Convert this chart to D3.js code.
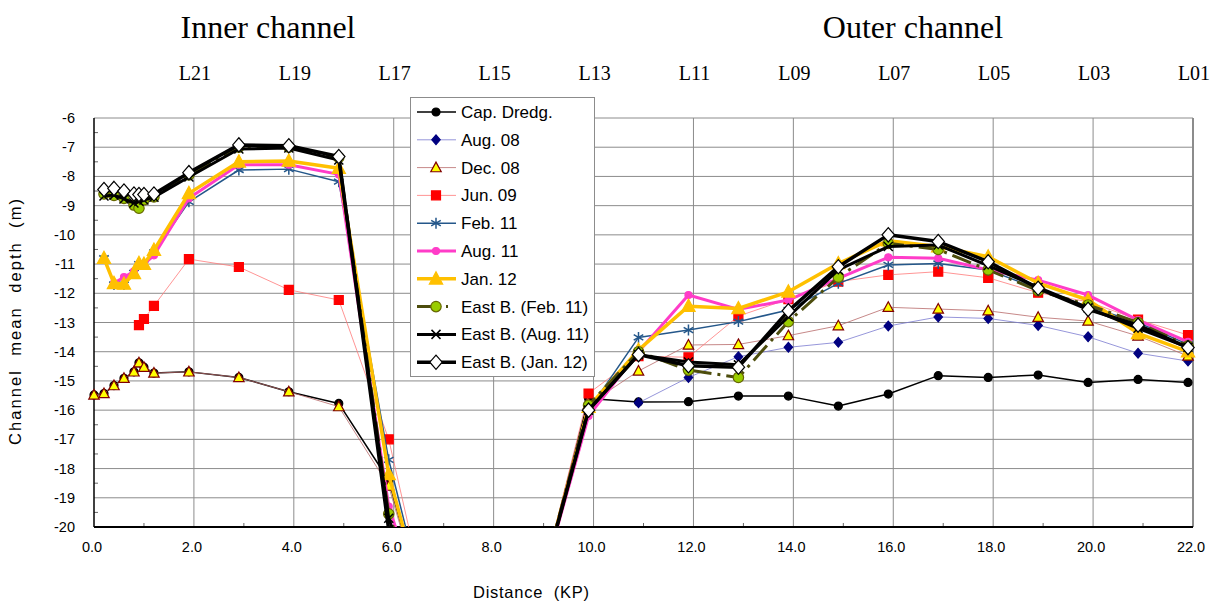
<!DOCTYPE html>
<html>
<head>
<meta charset="UTF-8">
<title>Channel mean depth</title>
<style>
  body { margin: 0; background: #fff; font-family: Arial, 'Liberation Sans', sans-serif; }
  .grid line { stroke: #8c8c8c; stroke-width: 1; }
  .tick-label { font-size: 14.5px; fill: #000; }
  .legend text { font-size: 17px; }
  .title { font-family: 'Liberation Serif', 'Times New Roman', serif; }
</style>
</head>
<body>
<script src="https://cdnjs.cloudflare.com/ajax/libs/d3/7.8.5/d3.min.js"></script>
<script>
/// data

// KP of each survey line (the gap 6.9-8.9 is below the plotted range)
var kp = [0.0, 0.2, 0.4, 0.6, 0.8, 0.9, 1.0, 1.2, 1.9, 2.9, 3.9, 4.9, 5.9, 6.9, 7.9, 8.9,
          9.9, 10.9, 11.9, 12.9, 13.9, 14.9, 15.9, 16.9, 17.9, 18.9, 19.9, 20.9, 21.9];

var capDredg = [-15.48, -15.43, -15.16, -14.91, -14.69, -14.38, -14.53, -14.73, -14.69, -14.88, -15.37, -15.77, -18.4, -24.5, -25.5, -22.3,
                -15.6, -15.72, -15.71, -15.52, -15.52, -15.86, -15.45, -14.82, -14.88, -14.8, -15.05, -14.95, -15.05];
var aug08 = [null, null, null, null, null, null, null, null, null, null, null, null, null, null, null, null,
             null, -15.75, -14.88, -14.17, -13.85, -13.68, -13.12, -12.81, -12.86, -13.1, -13.49, -14.05, -14.32];
var dec08 = [-15.48, -15.43, -15.16, -14.91, -14.69, -14.38, -14.53, -14.73, -14.69, -14.88, -15.37, -15.88, -18.6, -24.5, -25.5, -22.3,
             -15.8, -14.66, -13.77, -13.75, -13.45, -13.11, -12.48, -12.54, -12.6, -12.82, -12.95, -13.46, -14.15];
var jun09 = [null, null, null, null, null, -13.09, -12.88, -12.43, -10.83, -11.1, -11.88, -12.23, -17.0, -24.5, -25.5, -22.3,
             -15.43, -14.15, -14.19, -12.78, -12.2, -11.6, -11.37, -11.26, -11.47, -11.98, -12.29, -12.9, -13.43];
var feb11 = [null, -10.8, -11.7, -11.7, -11.3, -11.0, -11.0, -10.6, -8.87, -7.78, -7.75, -8.18, -17.7, -24.5, -25.5, -22.3,
             -16.0, -13.51, -13.26, -12.97, -12.57, -11.66, -11.03, -10.98, -11.2, -11.85, -12.45, -13.0, -13.75];
var aug11 = [null, null, -11.65, -11.45, -11.25, -11.0, -11.0, -10.7, -8.75, -7.6, -7.6, -7.93, -19.3, -24.5, -25.5, -22.3,
             -16.2, -14.0, -12.06, -12.55, -12.23, -11.49, -10.77, -10.8, -11.2, -11.55, -12.06, -12.92, -13.66];
var jan12 = [null, -10.8, -11.66, -11.68, -11.32, -10.97, -11.0, -10.52, -8.58, -7.5, -7.47, -7.72, -18.2, -24.5, -25.5, -22.3,
             -15.9, -13.94, -12.44, -12.52, -11.95, -10.98, -10.2, -10.4, -10.75, -11.65, -12.23, -13.37, -14.0];
var ebFeb11 = [null, -8.6, -8.65, -8.75, -8.98, -9.09, -8.8, -8.7, -7.95, -7.0, -7.0, -7.35, -19.55, -24.5, -25.5, -22.3,
               -15.83, -14.0, -14.63, -14.88, -12.97, -11.45, -10.29, -10.5, -11.2, -11.91, -12.4, -13.0, -13.8];
var ebAug11 = [null, -8.67, -8.64, -8.77, -8.91, -8.85, -8.81, -8.71, -8.02, -7.06, -7.03, -7.44, -19.7, -24.5, -25.5, -22.3,
               -16.0, -14.1, -14.35, -14.45, -12.8, -11.2, -10.4, -10.35, -11.05, -11.8, -12.5, -13.2, -13.85];
var ebJan12 = [null, -8.45, -8.41, -8.5, -8.6, -8.62, -8.62, -8.6, -7.87, -6.92, -6.95, -7.32, -20.1, -24.5, -25.5, -22.3,
               -16.0, -14.1, -14.48, -14.53, -12.6, -11.09, -10.0, -10.23, -10.92, -11.83, -12.55, -13.09, -13.86];

var seriesNames = ["Cap. Dredg.", "Aug. 08", "Dec. 08", "Jun. 09", "Feb. 11", "Aug. 11", "Jan. 12",
                   "East B. (Feb. 11)", "East B. (Aug. 11)", "East B. (Jan. 12)"];
var seriesValues = [capDredg, aug08, dec08, jun09, feb11, aug11, jan12, ebFeb11, ebAug11, ebJan12];

var lineLabels = ["L21", "L19", "L17", "L15", "L13", "L11", "L09", "L07", "L05", "L03", "L01"];
var lineLabelKp = [2, 4, 6, 8, 10, 12, 14, 16, 18, 20, 22];
var xTicks = [0, 2, 4, 6, 8, 10, 12, 14, 16, 18, 20, 22];

/// styles (one per series, same order)
var styles = [
  {stroke: "#000", w: 1.5, marker: "circle", size: 4, fill: "#000", mstroke: "#000"},
  {stroke: "#7b7bd0", w: 0.8, marker: "diamond", size: 4.2, fill: "#000080", mstroke: "#000080"},
  {stroke: "#b86a6a", w: 0.8, marker: "triangle", size: 5.5, fill: "#ffff00", mstroke: "#800000"},
  {stroke: "#ff7a7a", w: 0.8, marker: "square", size: 4.5, fill: "#ff0000", mstroke: "#ff0000"},
  {stroke: "#24578a", w: 1.5, marker: "asterisk", size: 5.5, fill: "none", mstroke: "#24578a"},
  {stroke: "#ff3cc8", w: 3, marker: "circle", size: 3.5, fill: "#ff3cc8", mstroke: "#ff3cc8"},
  {stroke: "#ffc000", w: 3.5, marker: "triangle", size: 7, fill: "#ffc000", mstroke: "#ffc000"},
  {stroke: "#4d4d0d", w: 3, dash: "20,6,3,6", marker: "circle", size: 5.2, fill: "#99cc00", mstroke: "#666600"},
  {stroke: "#000", w: 3, marker: "x", size: 4.5, fill: "none", mstroke: "#000"},
  {stroke: "#000", w: 3.5, marker: "diamond", size: 6.2, fill: "#fff", mstroke: "#000"}
];

/// main

var width = 1218, height = 602;
var svg = d3.select("body").append("svg")
    .attr("width", width)
    .attr("height", height);

var x = d3.scaleLinear().domain([0, 22]).range([94, 1193]);
var y = d3.scaleLinear().domain([-20, -6]).range([527, 118]);

// grid
var grid = svg.append("g").attr("class", "grid");
grid.selectAll("line.h")
  .data(d3.range(-19, -5))
  .enter().append("line")
    .attr("class", "h")
    .attr("x1", x(0)).attr("x2", x(22))
    .attr("y1", function(d) { return y(d); })
    .attr("y2", function(d) { return y(d); });
grid.selectAll("line.v")
  .data(xTicks.slice(1))
  .enter().append("line")
    .attr("class", "v")
    .attr("y1", y(-20)).attr("y2", y(-6))
    .attr("x1", function(d) { return x(d); })
    .attr("x2", function(d) { return x(d); });
svg.append("line")
    .attr("x1", x(22)).attr("x2", x(22))
    .attr("y1", y(-6)).attr("y2", y(-20))
    .attr("stroke", "#8c8c8c").attr("stroke-width", 2);

// minor ticks
svg.append("g").selectAll("line")
  .data(d3.range(-19.5, -6, 1))
  .enter().append("line")
    .attr("x1", x(0)).attr("x2", x(0) + 4)
    .attr("y1", function(d) { return y(d); })
    .attr("y2", function(d) { return y(d); })
    .attr("stroke", "#666");
svg.append("g").selectAll("line")
  .data(d3.range(1, 22, 2))
  .enter().append("line")
    .attr("x1", function(d) { return x(d); })
    .attr("x2", function(d) { return x(d); })
    .attr("y1", y(-20)).attr("y2", y(-20) - 4)
    .attr("stroke", "#666");

// axes lines
svg.append("line")
    .attr("x1", x(0)).attr("x2", x(0)).attr("y1", y(-6)).attr("y2", y(-20))
    .attr("stroke", "#000").attr("stroke-width", 1.5);
svg.append("line")
    .attr("x1", x(0)).attr("x2", x(22)).attr("y1", y(-20)).attr("y2", y(-20))
    .attr("stroke", "#000").attr("stroke-width", 2);

// tick labels
svg.append("g").selectAll("text")
  .data(d3.range(-6, -21, -1))
  .enter().append("text")
    .attr("class", "tick-label")
    .attr("x", 75)
    .attr("y", function(d) { return y(d) + 5; })
    .attr("text-anchor", "end")
    .text(function(d) { return d; });
svg.append("g").selectAll("text")
  .data(xTicks)
  .enter().append("text")
    .attr("class", "tick-label")
    .attr("x", function(d) { return x(d) - 2; })
    .attr("y", 552)
    .attr("text-anchor", "middle")
    .text(function(d) { return d3.format(".1f")(d); });

// axis titles
svg.append("text")
    .attr("transform", "translate(21,322) rotate(-90)")
    .attr("text-anchor", "middle")
    .attr("textLength", 246)
    .attr("lengthAdjust", "spacing")
    .style("font-size", "16.5px")
    .style("white-space", "pre")
    .text("Channel  mean  depth  (m)");
svg.append("text")
    .attr("x", 531).attr("y", 598)
    .attr("text-anchor", "middle")
    .attr("textLength", 116)
    .attr("lengthAdjust", "spacing")
    .style("font-size", "16.5px")
    .style("white-space", "pre")
    .text("Distance  (KP)");

// titles and survey line names
svg.append("text").attr("class", "title")
    .attr("x", 268).attr("y", 38)
    .attr("text-anchor", "middle")
    .style("font-size", "32px")
    .text("Inner channel");
svg.append("text").attr("class", "title")
    .attr("x", 913).attr("y", 38)
    .attr("text-anchor", "middle")
    .style("font-size", "32px")
    .text("Outer channel");
svg.append("g").selectAll("text")
  .data(lineLabels)
  .enter().append("text")
    .attr("class", "title")
    .attr("x", function(d, i) { return x(lineLabelKp[i]) + 1; })
    .attr("y", 80)
    .attr("text-anchor", "middle")
    .style("font-size", "20px")
    .text(function(d) { return d; });

// markers
function markerPath(type, s) {
  if (type === "circle") return d3.symbol(d3.symbolCircle, Math.PI * s * s)();
  if (type === "square") return "M" + -s + "," + -s + "H" + s + "V" + s + "H" + -s + "Z";
  if (type === "diamond") return "M0," + (-s * 1.15) + "L" + s + ",0L0," + (s * 1.15) + "L" + -s + ",0Z";
  if (type === "triangle") return "M0," + (-s) + "L" + (s * 0.95) + "," + (s * 0.75) + "L" + (-s * 0.95) + "," + (s * 0.75) + "Z";
  if (type === "x") return "M" + -s + "," + -s + "L" + s + "," + s + "M" + -s + "," + s + "L" + s + "," + -s;
  if (type === "asterisk") {
    var a = s * 0.87, b = s * 0.5;
    return "M0," + -s + "V" + s + "M" + -a + "," + -b + "L" + a + "," + b + "M" + -a + "," + b + "L" + a + "," + -b;
  }
}

// data lines (clipped to plot area)
svg.append("clipPath").attr("id", "plotclip")
  .append("rect")
    .attr("x", x(0) - 10).attr("y", y(-6) - 10)
    .attr("width", x(22) - x(0) + 20).attr("height", y(-20) - y(-6) + 10);

var plot = svg.append("g").attr("clip-path", "url(#plotclip)");

var line = d3.line()
    .defined(function(d) { return d[1] !== null; })
    .x(function(d) { return x(d[0]); })
    .y(function(d) { return y(d[1]); });

seriesValues.forEach(function(vals, i) {
  var st = styles[i];
  var pts = kp.map(function(k, j) { return [k, vals[j]]; });
  var g = plot.append("g").attr("class", "series");
  g.append("path")
      .datum(pts)
      .attr("d", line)
      .attr("fill", "none")
      .attr("stroke", st.stroke)
      .attr("stroke-width", st.w)
      .attr("stroke-linejoin", "round")
      .attr("stroke-dasharray", st.dash || null);
  g.selectAll("path.m")
    .data(pts.filter(function(d) { return d[1] !== null && d[1] >= -20; }))
    .enter().append("path")
      .attr("class", "m")
      .attr("transform", function(d) { return "translate(" + x(d[0]) + "," + y(d[1]) + ")"; })
      .attr("d", markerPath(st.marker, st.size))
      .attr("fill", st.fill)
      .attr("stroke", st.mstroke)
      .attr("stroke-width", st.marker === "x" || st.marker === "asterisk" ? 1.5 : 1.2);
});

// legend
var legend = svg.append("g").attr("class", "legend");
legend.append("rect")
    .attr("x", 410.5).attr("y", 97.5)
    .attr("width", 184).attr("height", 279)
    .attr("fill", "#fff")
    .attr("stroke", "#8c8c8c");
var rows = legend.selectAll("g.row")
  .data(seriesNames)
  .enter().append("g")
    .attr("class", "row")
    .attr("transform", function(d, i) { return "translate(0," + (112 + i * 27.8) + ")"; });
rows.append("line")
    .attr("x1", 417).attr("x2", 456)
    .attr("stroke", function(d, i) { return styles[i].stroke; })
    .attr("stroke-width", function(d, i) { return styles[i].w; })
    .attr("stroke-dasharray", function(d, i) { return styles[i].dash ? "20,9,2,9" : null; });
rows.append("path")
    .attr("transform", "translate(436,0)")
    .attr("d", function(d, i) { return markerPath(styles[i].marker, styles[i].size); })
    .attr("fill", function(d, i) { return styles[i].fill; })
    .attr("stroke", function(d, i) { return styles[i].mstroke; })
    .attr("stroke-width", function(d, i) { return styles[i].marker === "x" || styles[i].marker === "asterisk" ? 1.5 : 1.2; });
rows.append("text")
    .attr("x", 461)
    .attr("y", 6)
    .text(function(d) { return d; });
</script>
</body>
</html>
